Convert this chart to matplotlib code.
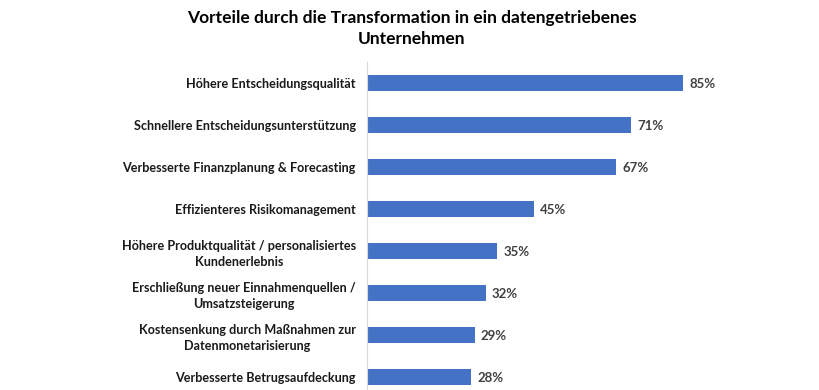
import matplotlib.pyplot as plt

plt.rcParams['font.family'] = ['Lato', 'DejaVu Sans']

labels = [
    "Höhere Entscheidungsqualität",
    "Schnellere Entscheidungsunterstützung",
    "Verbesserte Finanzplanung & Forecasting",
    "Effizienteres Risikomanagement",
    "Höhere Produktqualität / personalisiertes\nKundenerlebnis",
    "Erschließung neuer Einnahmenquellen /\nUmsatzsteigerung",
    "Kostensenkung durch Maßnahmen zur\nDatenmonetarisierung",
    "Verbesserte Betrugsaufdeckung",
]
values = [85, 71, 67, 45, 35, 32, 29, 28]

fig = plt.figure(figsize=(8.2, 3.9), dpi=100)
ax = fig.add_axes([0.4476, 0, 0.5524, 0.841])

pos = list(range(len(labels)))
ax.barh(pos, values, height=0.36, color='#4472C4')
for p, v in zip(pos, values):
    ax.text(v + 1.6, p + 0.03, f"{v}%", va='center', ha='left', fontsize=9.5,
            fontweight='bold', color='#404040')

ax.set_xlim(0, 121.8)
ax.set_ylim(7.31, -0.5)
ax.set_yticks(pos)
ax.set_yticklabels(labels, fontsize=9.1, fontweight='bold', color='#1a1a1a')
for t in ax.get_yticklabels():
    t.set_multialignment('center')
    t.set_linespacing(1.45)
ax.tick_params(axis='y', length=0, pad=8)
ax.set_xticks([])
for s in ['top', 'right', 'bottom']:
    ax.spines[s].set_visible(False)
ax.spines['left'].set_color('#d9d9d9')

fig.text(0.502, 0.975, "Vorteile durch die Transformation in ein datengetriebenes\nUnternehmen",
         ha='center', va='top', fontsize=12.5, fontweight='bold', linespacing=1.4)

fig.savefig('out.png', dpi=100)
